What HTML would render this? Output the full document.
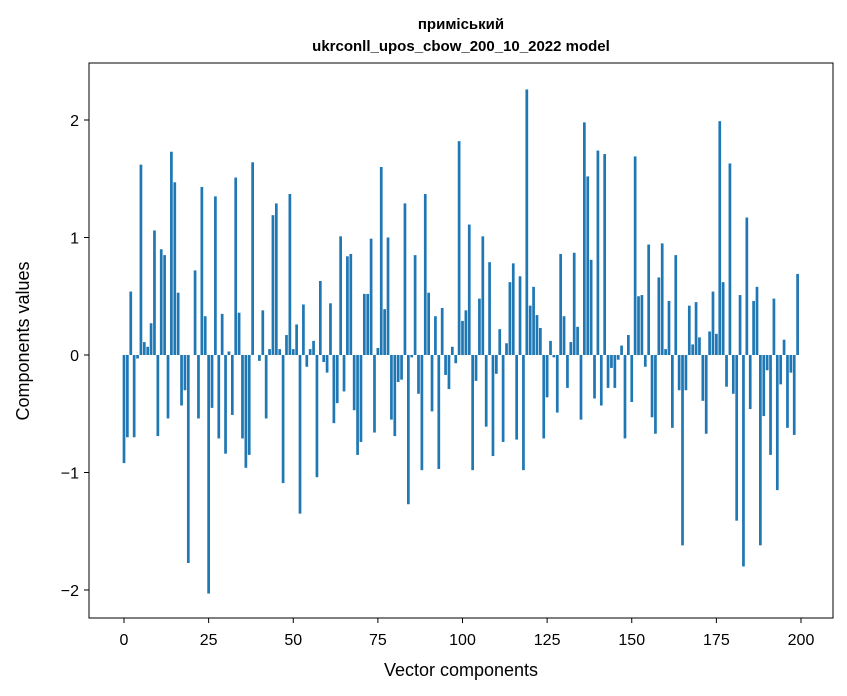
<!DOCTYPE html>
<html><head><meta charset="utf-8"><style>
html,body{margin:0;padding:0;background:#fff;}
svg{display:block;font-family:"Liberation Sans","DejaVu Sans",sans-serif;}
</style></head><body>
<svg id="chart" width="847" height="696" viewBox="0 0 847 696">
<text x="461" y="29" text-anchor="middle" font-size="15" font-weight="bold">приміський</text>
<text x="461" y="51" text-anchor="middle" font-size="15" font-weight="bold">ukrconll_upos_cbow_200_10_2022 model</text>
<g id="bars"></g>
<rect x="89" y="63" width="744" height="555" fill="none" stroke="#000" stroke-width="1"/>
<g id="xaxis"></g>
<g id="yaxis"></g>
<text x="461" y="676" text-anchor="middle" font-size="18">Vector components</text>
<text transform="translate(29,341) rotate(-90)" text-anchor="middle" font-size="18">Components values</text>
</svg>
<script>
const values = [-0.92,-0.70,0.54,-0.70,-0.03,1.62,0.11,0.07,0.27,1.06,
-0.69,0.90,0.85,-0.54,1.73,1.47,0.53,-0.43,-0.30,-1.77,
0.0,0.72,-0.54,1.43,0.33,-2.03,-0.45,1.35,-0.71,0.35,
-0.84,0.03,-0.51,1.51,0.36,-0.71,-0.96,-0.85,1.64,0.0,
-0.05,0.38,-0.54,0.05,1.19,1.29,0.05,-1.09,0.17,1.37,
0.05,0.26,-1.35,0.43,-0.10,0.05,0.12,-1.04,0.63,-0.06,
-0.15,0.44,-0.58,-0.41,1.01,-0.31,0.84,0.86,-0.47,-0.85,
-0.74,0.52,0.52,0.99,-0.66,0.06,1.60,0.39,1.00,-0.55,
-0.69,-0.23,-0.21,1.29,-1.27,-0.02,0.85,-0.33,-0.98,1.37,
0.53,-0.48,0.33,-0.97,0.40,-0.17,-0.29,0.07,-0.07,1.82,
0.29,0.38,1.11,-0.98,-0.22,0.48,1.01,-0.61,0.79,-0.86,
-0.16,0.22,-0.74,0.10,0.62,0.78,-0.72,0.67,-0.98,2.26,
0.42,0.58,0.34,0.23,-0.71,-0.36,0.12,-0.02,-0.49,0.86,
0.33,-0.28,0.11,0.87,0.24,-0.55,1.98,1.52,0.81,-0.37,
1.74,-0.43,1.71,-0.28,-0.11,-0.28,-0.04,0.08,-0.71,0.17,
-0.40,1.69,0.50,0.51,-0.10,0.94,-0.53,-0.67,0.66,0.95,
0.05,0.46,-0.62,0.85,-0.30,-1.62,-0.30,0.42,0.09,0.45,
0.15,-0.39,-0.67,0.20,0.54,0.18,1.99,0.62,-0.27,1.63,
-0.33,-1.41,0.51,-1.80,1.17,-0.46,0.46,0.58,-1.62,-0.52,
-0.13,-0.85,0.48,-1.15,-0.25,0.13,-0.62,-0.15,-0.68,0.69];
const xTicks = [0,25,50,75,100,125,150,175,200];
const yTicks = [-2,-1,0,1,2];
const yTickLabels = ["\u22122","\u22121","0","1","2"];

const NS = "http://www.w3.org/2000/svg";
const xScale = v => 124 + v * (801 - 124) / 200;
const yScale = v => 355 - v * 117.5;
const bw = 0.8 * (801 - 124) / 200;
const gb = document.getElementById('bars');
values.forEach((v, i) => {
  const r = document.createElementNS(NS, 'rect');
  const y0 = yScale(0), y1 = yScale(v);
  r.setAttribute('x', xScale(i) - bw / 2);
  r.setAttribute('y', Math.min(y0, y1));
  r.setAttribute('width', bw);
  r.setAttribute('height', Math.max(Math.abs(y1 - y0), 0.01));
  r.setAttribute('fill', '#1f77b4');
  
  
  gb.appendChild(r);
});
const gx = document.getElementById('xaxis');
xTicks.forEach(t => {
  const x = xScale(t);
  const l = document.createElementNS(NS, 'line');
  l.setAttribute('x1', x); l.setAttribute('x2', x);
  l.setAttribute('y1', 618); l.setAttribute('y2', 623);
  l.setAttribute('stroke', '#000');
  
  
  gx.appendChild(l);
  const tx = document.createElementNS(NS, 'text');
  tx.setAttribute('x', x); tx.setAttribute('y', 645);
  tx.setAttribute('text-anchor', 'middle');
  tx.setAttribute('font-size', '16');
  tx.textContent = t;
  
  
  gx.appendChild(tx);
});
const gy = document.getElementById('yaxis');
yTicks.forEach((t, i) => {
  const y = yScale(t);
  const l = document.createElementNS(NS, 'line');
  l.setAttribute('x1', 84); l.setAttribute('x2', 89);
  l.setAttribute('y1', y); l.setAttribute('y2', y);
  l.setAttribute('stroke', '#000');
  
  
  gy.appendChild(l);
  const tx = document.createElementNS(NS, 'text');
  tx.setAttribute('x', 79); tx.setAttribute('y', y + 6);
  tx.setAttribute('text-anchor', 'end');
  tx.setAttribute('font-size', '16');
  tx.textContent = yTickLabels[i];
  
  
  gy.appendChild(tx);
});
</script>
</body></html>
